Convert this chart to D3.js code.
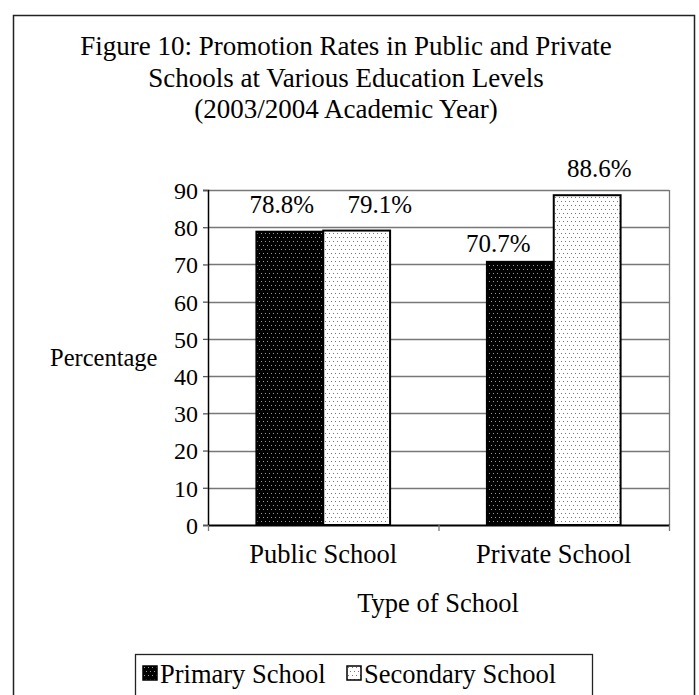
<!DOCTYPE html>
<html>
<head>
<meta charset="utf-8">
<script src="https://cdn.jsdelivr.net/npm/d3@7"></script>
<style>
  body { margin: 0; background: #fff; }
  svg text { font-family: "Liberation Serif", "Times New Roman", serif; fill: #000; }
</style>
</head>
<body>
<div id="chart"></div>
<script>
// data
var categories = ["Public School", "Private School"];
var seriesNames = ["Primary School", "Secondary School"];
var primaryValues = [78.8, 70.7];
var secondaryValues = [79.1, 88.6];
var yTicks = [0, 10, 20, 30, 40, 50, 60, 70, 80, 90];
var titleLines = [
    "Figure 10: Promotion Rates in Public and Private",
    "Schools at Various Education Levels",
    "(2003/2004 Academic Year)"
];

// label placement tweaks (dx, dy from bar top centre), like the original
var labelNudge = [[-8, -19], [23, -18], [-22, -10], [12, -18]];

var width = 699, height = 695;
var plot = { left: 208, right: 669, top: 190, bottom: 525 };
var serif = "Liberation Serif, Times New Roman, serif";

var svg = d3.select("#chart").append("svg")
    .attr("width", width)
    .attr("height", height);

var defs = svg.append("defs");
// dotted fills
function dotPattern(id, bg, dot) {
    var p = defs.append("pattern")
        .attr("id", id)
        .attr("patternUnits", "userSpaceOnUse")
        .attr("width", 4)
        .attr("height", 8);
    p.append("rect").attr("width", 4).attr("height", 8).attr("fill", bg);
    p.append("rect").attr("x", 1).attr("y", 1).attr("width", 1).attr("height", 1).attr("fill", dot);
    p.append("rect").attr("x", 3).attr("y", 5).attr("width", 1).attr("height", 1).attr("fill", dot);
}
dotPattern("dotsDark", "#000", "#9a9a9a");
dotPattern("dotsLight", "#fff", "#777");
var fills = ["url(#dotsDark)", "url(#dotsLight)"];

// outer frame
svg.append("rect")
    .attr("x", 13.5).attr("y", 15.5)
    .attr("width", 681).attr("height", 700)
    .attr("fill", "none")
    .attr("stroke", "#222")
    .attr("stroke-width", 1.5);

// title
svg.append("g").selectAll("text")
    .data(titleLines)
    .enter()
    .append("text")
    .attr("x", 346)
    .attr("y", (d, i) => 55 + i * 31.5)
    .attr("text-anchor", "middle")
    .attr("font-family", serif)
    .attr("font-size", 27)
    .text(d => d);

var x = d3.scaleBand()
    .domain(categories)
    .range([plot.left, plot.right])
    .paddingInner(0.42)
    .paddingOuter(0.21);

var xs = d3.scaleBand()
    .domain(seriesNames)
    .range([0, x.bandwidth()]);

var y = d3.scaleLinear()
    .domain([0, 90])
    .range([plot.bottom, plot.top]);

// gridlines
svg.append("g").selectAll("line")
    .data(yTicks.filter(d => d > 0))
    .enter()
    .append("line")
    .attr("x1", plot.left).attr("x2", plot.right)
    .attr("y1", d => Math.round(y(d)) + 0.5)
    .attr("y2", d => Math.round(y(d)) + 0.5)
    .attr("stroke", "#777")
    .attr("stroke-width", 1.3);

// right border of plot area
svg.append("line")
    .attr("x1", plot.right + 0.5).attr("x2", plot.right + 0.5)
    .attr("y1", plot.top).attr("y2", plot.bottom)
    .attr("stroke", "#777")
    .attr("stroke-width", 1.3);

// bars
var rows = categories.map((c, i) => ({ cat: c, vals: [primaryValues[i], secondaryValues[i]] }));
var barData = [];
rows.forEach(function (r) {
    r.vals.forEach(function (v, j) {
        barData.push({ cat: r.cat, series: seriesNames[j], idx: j, value: v });
    });
});

svg.append("g").selectAll("rect")
    .data(barData)
    .enter()
    .append("rect")
    .attr("x", d => x(d.cat) + xs(d.series))
    .attr("y", d => y(d.value))
    .attr("width", xs.bandwidth())
    .attr("height", d => y(0) - y(d.value))
    .attr("fill", d => fills[d.idx])
    .attr("stroke", "#000")
    .attr("stroke-width", 2);

// value labels
svg.append("g").selectAll("text")
    .data(barData)
    .enter()
    .append("text")
    .attr("x", (d, i) => x(d.cat) + xs(d.series) + xs.bandwidth() / 2 + labelNudge[i][0])
    .attr("y", (d, i) => y(d.value) + labelNudge[i][1])
    .attr("text-anchor", "middle")
    .attr("font-family", serif)
    .attr("font-size", 25)
    .text(d => d.value.toFixed(1) + "%");

// y axis
var yAxis = svg.append("g")
    .attr("transform", "translate(" + plot.left + ",0)")
    .call(d3.axisLeft(y).tickValues(yTicks).tickSize(5).tickPadding(5));
yAxis.select(".domain").attr("stroke", "#000").attr("stroke-width", 1.5);
yAxis.selectAll(".tick line").attr("stroke", "#555").attr("stroke-width", 1.3);
yAxis.selectAll(".tick text")
    .attr("font-size", 24)
    .attr("font-family", serif)
    .attr("dy", "0.35em");

// x axis
var xAxis = svg.append("g")
    .attr("transform", "translate(0," + plot.bottom + ")")
    .call(d3.axisBottom(x).tickSize(0));
xAxis.select(".domain").attr("stroke", "#000").attr("stroke-width", 2);
xAxis.selectAll(".tick text")
    .attr("y", 38)
    .attr("dy", 0)
    .attr("font-size", 26.5)
    .attr("font-family", serif);

// category separator ticks
var sepX = [plot.left, plot.left + (plot.right - plot.left) / 2, plot.right];
svg.append("g").selectAll("line")
    .data(sepX)
    .enter()
    .append("line")
    .attr("x1", d => d + 0.5).attr("x2", d => d + 0.5)
    .attr("y1", plot.bottom).attr("y2", plot.bottom + 6)
    .attr("stroke", "#777")
    .attr("stroke-width", 1.3);

// axis titles
svg.append("text")
    .attr("x", 50).attr("y", 366)
    .attr("font-family", serif)
    .attr("font-size", 24.5)
    .text("Percentage");

svg.append("text")
    .attr("x", 438).attr("y", 612)
    .attr("text-anchor", "middle")
    .attr("font-family", serif)
    .attr("font-size", 26.5)
    .text("Type of School");

// legend
var legend = svg.append("g");
legend.append("rect")
    .attr("x", 135.5).attr("y", 654.5)
    .attr("width", 457).attr("height", 60)
    .attr("fill", "#fff")
    .attr("stroke", "#222")
    .attr("stroke-width", 1.3);

var legendX = [143, 347];
var items = legend.selectAll("g.item")
    .data(seriesNames)
    .enter()
    .append("g")
    .attr("class", "item")
    .attr("transform", (d, i) => "translate(" + legendX[i] + ",666)");
items.append("rect")
    .attr("width", 14).attr("height", 14)
    .attr("fill", (d, i) => fills[i])
    .attr("stroke", "#000")
    .attr("stroke-width", 1.5);
items.append("text")
    .attr("x", 17).attr("y", 17)
    .attr("font-family", serif)
    .attr("font-size", 26.5)
    .text(d => d);
</script>
</body>
</html>
